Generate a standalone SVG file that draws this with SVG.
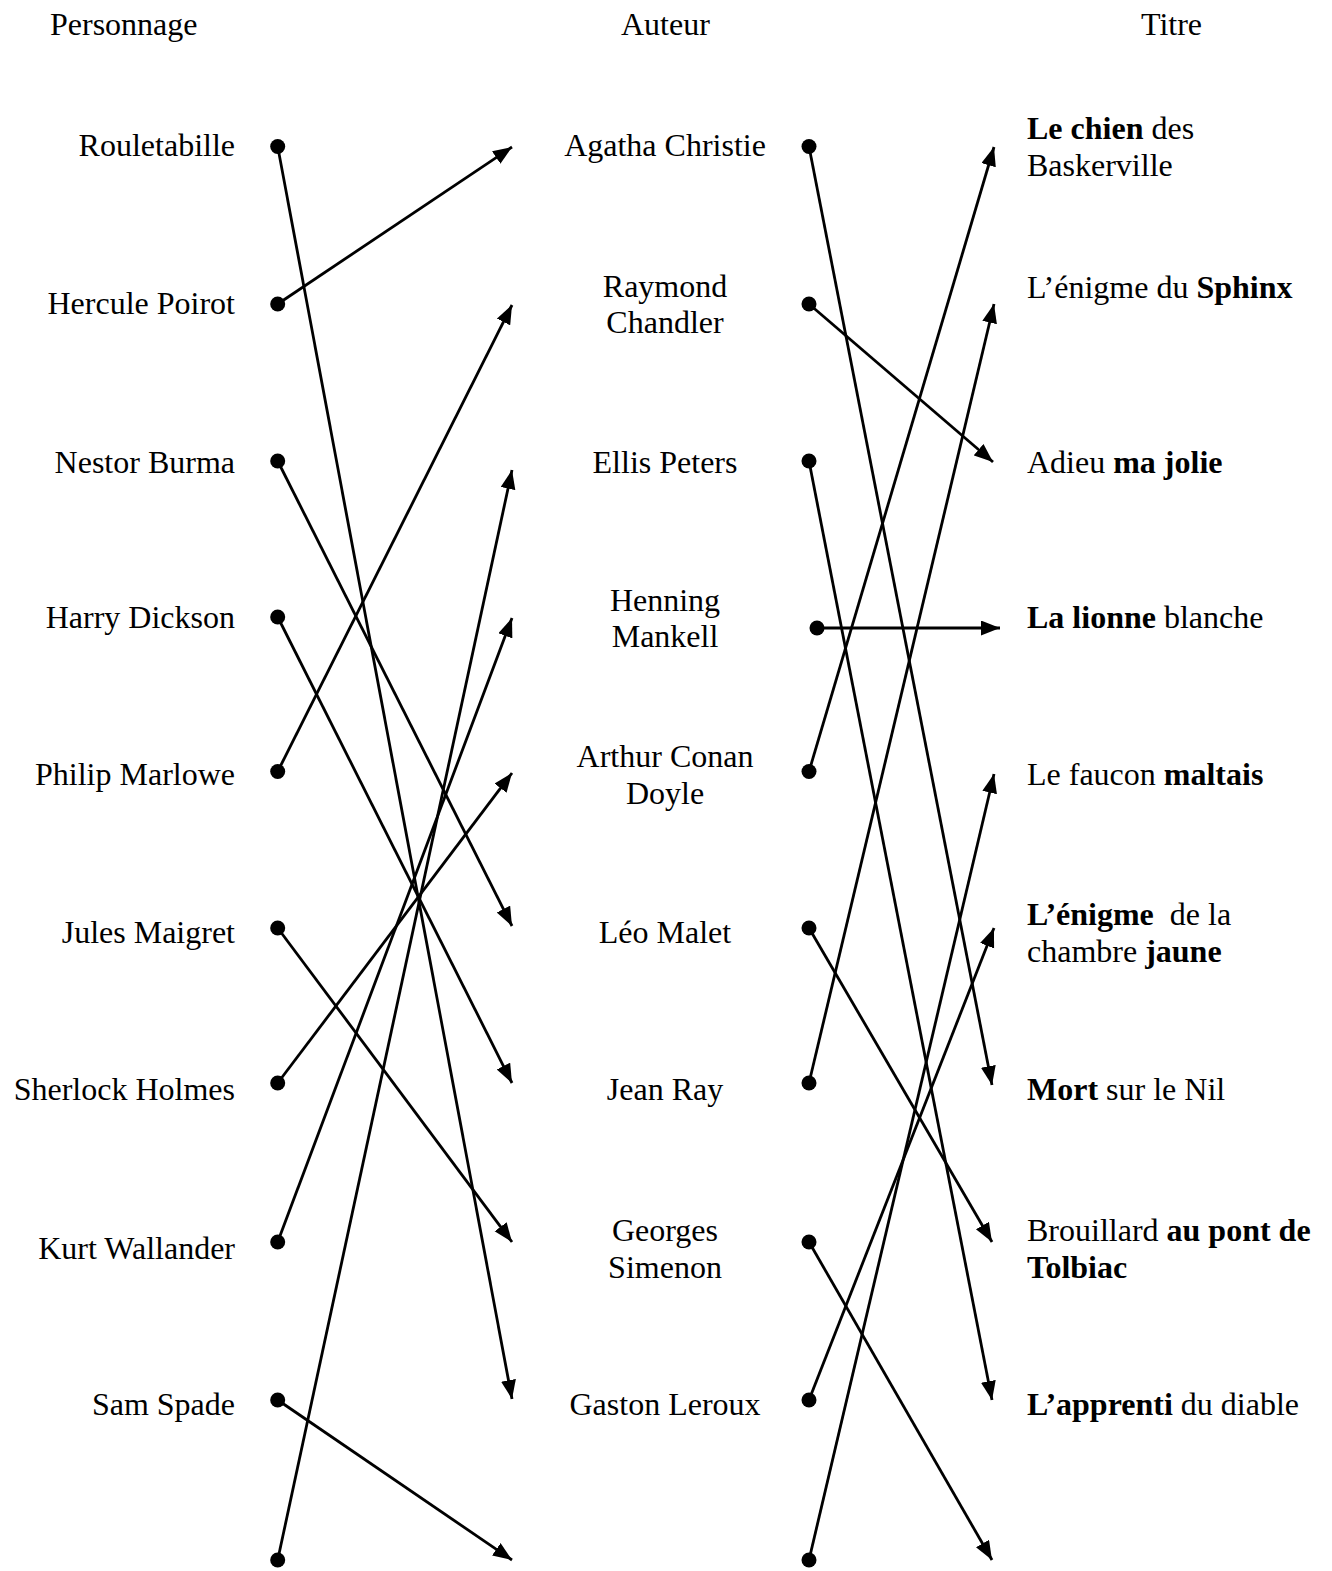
<svg xmlns="http://www.w3.org/2000/svg" width="1332" height="1571" viewBox="0 0 1332 1571">
<style>
text{font-family:"Liberation Serif","Times New Roman",serif;font-size:32px;fill:#000}
.l{text-anchor:end}
.m{text-anchor:middle}
.b{font-weight:bold}
.c line{stroke:#000;stroke-width:2.8;marker-end:url(#ah)}
.d{fill:#000}
</style>
<defs>
<marker id="ah" markerUnits="userSpaceOnUse" markerWidth="22" markerHeight="16" refX="19" refY="7.5" orient="auto">
<path d="M0,0 L19,7.5 L0,15 z" fill="#000"/>
</marker>
</defs>
<rect width="1332" height="1571" fill="#fff"/>
<g id="headers">
<text x="50" y="35">Personnage</text>
<text x="621" y="35">Auteur</text>
<text x="1141" y="35">Titre</text>
</g>
<g id="personnages">
<g id="p1"><text class="l" x="235" y="156">Rouletabille</text><circle class="d" cx="277.7" cy="146.5" r="7.5"/></g>
<g id="p2"><text class="l" x="235" y="313.5">Hercule Poirot</text><circle class="d" cx="277.7" cy="304" r="7.5"/></g>
<g id="p3"><text class="l" x="235" y="473">Nestor Burma</text><circle class="d" cx="277.7" cy="461" r="7.5"/></g>
<g id="p4"><text class="l" x="235" y="628">Harry Dickson</text><circle class="d" cx="277.7" cy="617" r="7.5"/></g>
<g id="p5"><text class="l" x="235" y="784.5">Philip Marlowe</text><circle class="d" cx="277.7" cy="771.5" r="7.5"/></g>
<g id="p6"><text class="l" x="235" y="942.5">Jules Maigret</text><circle class="d" cx="277.7" cy="928" r="7.5"/></g>
<g id="p7"><text class="l" x="235" y="1100">Sherlock Holmes</text><circle class="d" cx="277.7" cy="1083" r="7.5"/></g>
<g id="p8"><text class="l" x="235" y="1259">Kurt Wallander</text><circle class="d" cx="277.7" cy="1242" r="7.5"/></g>
<g id="p9"><text class="l" x="235" y="1414.5">Sam Spade</text><circle class="d" cx="277.7" cy="1400" r="7.5"/></g>
<g id="p10"><circle class="d" cx="277.7" cy="1560" r="7.5"/></g>
</g>
<g id="auteurs">
<g id="a1"><text class="m" x="665" y="156">Agatha Christie</text><circle class="d" cx="809" cy="146.5" r="7.5"/></g>
<g id="a2"><text class="m" x="665" y="296.5">Raymond</text><text class="m" x="665" y="333">Chandler</text><circle class="d" cx="809" cy="304" r="7.5"/></g>
<g id="a3"><text class="m" x="665" y="473">Ellis Peters</text><circle class="d" cx="809" cy="461" r="7.5"/></g>
<g id="a4"><text class="m" x="665" y="611">Henning</text><text class="m" x="665" y="647">Mankell</text><circle class="d" cx="817" cy="628" r="7.5"/></g>
<g id="a5"><text class="m" x="665" y="766.5">Arthur Conan</text><text class="m" x="665" y="803.5">Doyle</text><circle class="d" cx="809" cy="771.5" r="7.5"/></g>
<g id="a6"><text class="m" x="665" y="942.5">Léo Malet</text><circle class="d" cx="809" cy="928" r="7.5"/></g>
<g id="a7"><text class="m" x="665" y="1100">Jean Ray</text><circle class="d" cx="809" cy="1083" r="7.5"/></g>
<g id="a8"><text class="m" x="665" y="1241">Georges</text><text class="m" x="665" y="1277.5">Simenon</text><circle class="d" cx="809" cy="1242" r="7.5"/></g>
<g id="a9"><text class="m" x="665" y="1414.5">Gaston Leroux</text><circle class="d" cx="809" cy="1400" r="7.5"/></g>
<g id="a10"><circle class="d" cx="809" cy="1560" r="7.5"/></g>
</g>
<g id="titres">
<g id="t1"><text x="1027" y="139"><tspan class="b">Le chien</tspan> des</text><text x="1027" y="175.5">Baskerville</text></g>
<g id="t2"><text x="1027" y="297.5">L’énigme du <tspan class="b">Sphinx</tspan></text></g>
<g id="t3"><text x="1027" y="473">Adieu <tspan class="b">ma jolie</tspan></text></g>
<g id="t4"><text x="1027" y="628"><tspan class="b">La lionne</tspan> blanche</text></g>
<g id="t5"><text x="1027" y="784.5">Le faucon <tspan class="b">maltais</tspan></text></g>
<g id="t6"><text x="1027" y="924.5" xml:space="preserve"><tspan class="b">L’énigme</tspan>  de la</text><text x="1027" y="961.5">chambre <tspan class="b">jaune</tspan></text></g>
<g id="t7"><text x="1027" y="1100"><tspan class="b">Mort</tspan> sur le Nil</text></g>
<g id="t8"><text x="1027" y="1241">Brouillard <tspan class="b">au pont de</tspan></text><text class="b" x="1027" y="1277.5">Tolbiac</text></g>
<g id="t9"><text x="1027" y="1414.5"><tspan class="b">L’apprenti</tspan> du diable</text></g>
</g>
<g id="connectors" class="c">
<line x1="277.7" y1="146.5" x2="512" y2="1399"/>
<line x1="277.7" y1="304" x2="512" y2="147"/>
<line x1="277.7" y1="461" x2="512" y2="926"/>
<line x1="277.7" y1="617" x2="512" y2="1083"/>
<line x1="277.7" y1="771.5" x2="512" y2="305"/>
<line x1="277.7" y1="928" x2="512" y2="1242"/>
<line x1="277.7" y1="1083" x2="512" y2="773"/>
<line x1="277.7" y1="1242" x2="512" y2="618"/>
<line x1="277.7" y1="1400" x2="512" y2="1560"/>
<line x1="277.7" y1="1560" x2="512" y2="470"/>
<line x1="809" y1="146.5" x2="992" y2="1085"/>
<line x1="809" y1="304" x2="993" y2="462"/>
<line x1="809" y1="461" x2="992" y2="1400"/>
<line x1="817" y1="628" x2="1000" y2="628"/>
<line x1="809" y1="771.5" x2="994" y2="147"/>
<line x1="809" y1="928" x2="992" y2="1242"/>
<line x1="809" y1="1083" x2="994" y2="304"/>
<line x1="809" y1="1242" x2="992" y2="1560"/>
<line x1="809" y1="1400" x2="994" y2="928"/>
<line x1="809" y1="1560" x2="994" y2="774"/>
</g>
</svg>
